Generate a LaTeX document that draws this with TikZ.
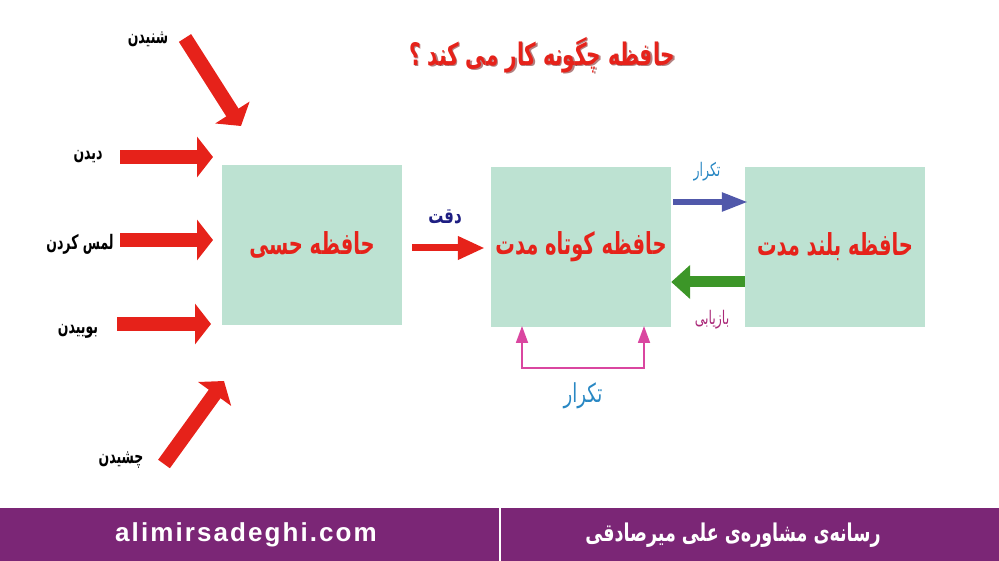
\documentclass[tikz,border=0pt]{standalone}
\usepackage{fontspec}
\usepackage{graphicx}
\usetikzlibrary{arrows.meta}
\TeXXeTstate=1
\setmainfont{Liberation Sans}
\newfontfamily\ar[Script=Arabic]{DejaVu Sans}
\newcommand\tallar[2][1.55]{\scalebox{1}[#1]{\beginR #2\endR}}
\definecolor{boxgreen}{RGB}{189,226,210}
\definecolor{arred}{RGB}{230,34,26}
\definecolor{barpurple}{RGB}{123,38,118}
\definecolor{navytxt}{RGB}{30,30,130}
\definecolor{lbluetxt}{RGB}{40,135,195}
\definecolor{slateblue}{RGB}{80,88,170}
\definecolor{grn}{RGB}{60,150,40}
\definecolor{pinkline}{RGB}{218,70,160}
\definecolor{magtxt}{RGB}{170,40,120}
\tikzset{
  membox/.style={fill=boxgreen, draw=none, minimum width=180pt, minimum height=160pt, inner sep=0pt,
    font=\ar\bfseries\fontsize{19.5}{22}\selectfont, text=arred},
  sense/.style={arred, line width=14.5pt, -{Triangle[width=40pt,length=16pt]}},
  senselbl/.style={font=\ar\bfseries\fontsize{12.5}{14}\selectfont, text=black, inner sep=0pt},
  attarr/.style={arred, line width=7pt, -{Triangle[width=22pt,length=27pt]}},
  reparr/.style={slateblue, line width=5.5pt, -{Triangle[width=18pt,length=26pt]}},
  retarr/.style={grn, line width=11pt, -{Triangle[width=33pt,length=19pt]}},
  pinkarr/.style={pinkline, line width=1.8pt, {Triangle[width=12pt,length=17pt]}-{Triangle[width=12pt,length=17pt]}},
}
\begin{document}
\begin{tikzpicture}[x=1pt,y=-1pt]
\useasboundingbox (0,0) rectangle (999,561);
% title
\node[font=\ar\bfseries\fontsize{20}{24}\selectfont, text=black!60!red, opacity=0.5] (titleshadow) at (543.5,56.5) {\tallar{حافظه چگونه کار می کند ؟}};
\node[font=\ar\bfseries\fontsize{20}{24}\selectfont, text=arred] (title) at (542,55) {\tallar{حافظه چگونه کار می کند ؟}};
% boxes
\node[membox] (sens) at (312,245) {\tallar{حافظه حسی}};
\node[membox] (stm) at (581,247) {\tallar{حافظه کوتاه مدت}};
\node[membox] (ltm) at (835,247) {\tallar{حافظه بلند مدت}};
% sense arrows
\coordinate (a1s) at (185,38); \coordinate (a1e) at (241,126);
\coordinate (a2s) at (120,157); \coordinate (a2e) at (213,157);
\coordinate (a3s) at (120,240); \coordinate (a3e) at (213,240);
\coordinate (a4s) at (117,324); \coordinate (a4e) at (211,324);
\coordinate (a5s) at (164,464); \coordinate (a5e) at (224,381);
\draw[sense] (a1s) -- (a1e);
\draw[sense] (a2s) -- (a2e);
\draw[sense] (a3s) -- (a3e);
\draw[sense] (a4s) -- (a4e);
\draw[sense] (a5s) -- (a5e);
\node[senselbl] (l1) at (148,39) {\tallar[1.6]{شنیدن}};
\node[senselbl] (l2) at (88,157) {\tallar[1.6]{دیدن}};
\node[senselbl] (l3) at (80,244) {\tallar[1.6]{لمس کردن}};
\node[senselbl] (l4) at (78,331) {\tallar[1.6]{بوییدن}};
\node[senselbl] (l5) at (121,460) {\tallar[1.6]{چشیدن}};
% attention
\draw[attarr] ([xshift=10pt,yshift=-3pt]sens.east) -- ([xshift=-6pt,yshift=-1pt]stm.west);
\node[font=\ar\bfseries\fontsize{15}{18}\selectfont, text=navytxt] (dlbl) at (445,217) {\tallar[1.45]{دقت}};
% rehearsal to LTM
\draw[reparr] ([xshift=2pt,yshift=45pt]stm.east) -- ([xshift=3pt,yshift=45pt]ltm.west);
\node[font=\ar\fontsize{12.5}{14}\selectfont, text=lbluetxt] (t1) at (707,172) {\tallar[1.5]{تکرار}};
% retrieval
\draw[retarr] ([yshift=-35pt]ltm.west) -- ([yshift=-35pt]stm.east);
\node[font=\ar\fontsize{12.5}{14}\selectfont, text=magtxt] (bz) at (712,320) {\tallar[1.5]{بازیابی}};
% loop rehearsal
\coordinate (p1) at (522,326); \coordinate (p2) at (522,368);
\coordinate (p3) at (644,368); \coordinate (p4) at (644,326);
\draw[pinkarr] (p1) -- (p2) -- (p3) -- (p4);
\node[font=\ar\fontsize{18}{20}\selectfont, text=lbluetxt] (t2) at (583,396) {\tallar[1.45]{تکرار}};
% footer
\fill[barpurple] (0,508) rectangle (999,561);
\draw[white, line width=2pt] (500,508) -- (500,561);
\node[font=\bfseries\fontsize{26}{28}\selectfont, text=white] (url) at (246,535) {\addfontfeatures{LetterSpace=8}alimirsadeghi.com};
\node[font=\ar\bfseries\fontsize{17.5}{20}\selectfont, text=white] (brand) at (733,535) {\tallar[1.4]{رسانه‌ی مشاوره‌ی علی میرصادقی}};
\end{tikzpicture}
\end{document}
